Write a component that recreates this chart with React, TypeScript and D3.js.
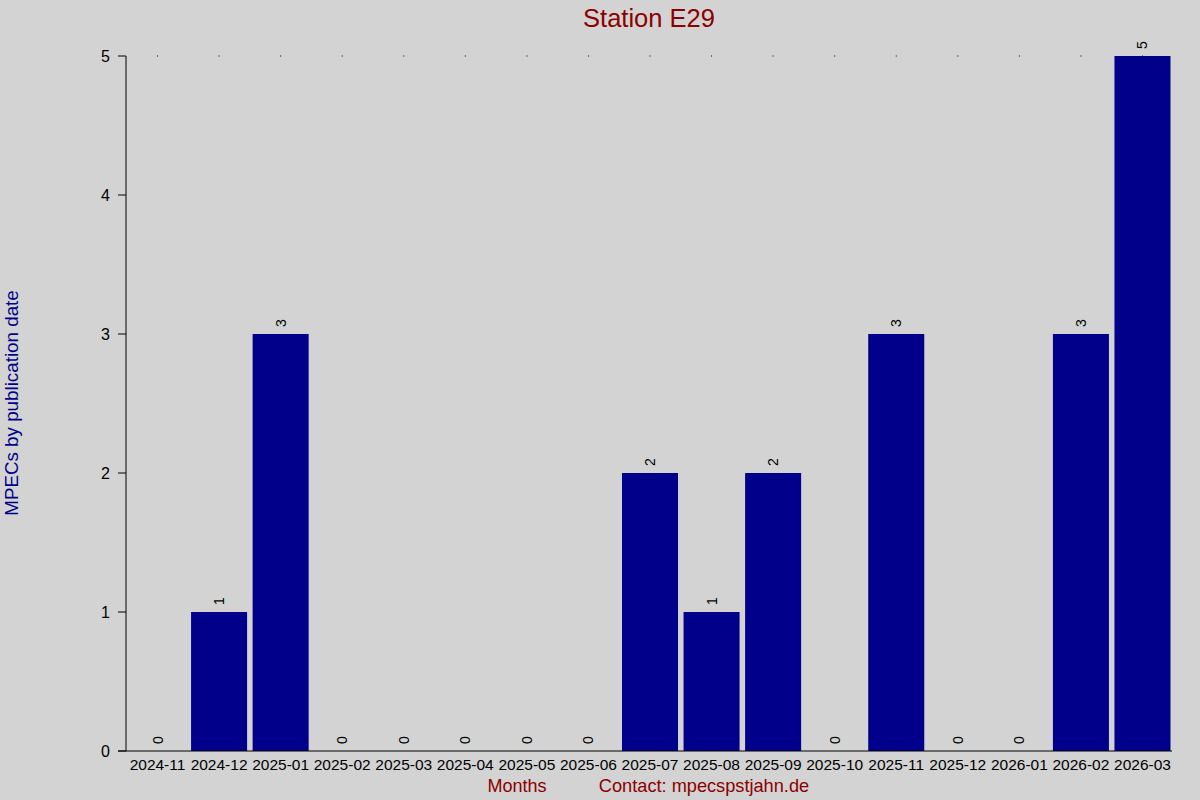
import React from 'react';
import * as d3 from 'd3';

const months = [
  '2024-11', '2024-12', '2025-01', '2025-02', '2025-03', '2025-04', '2025-05', '2025-06', '2025-07',
  '2025-08', '2025-09', '2025-10', '2025-11', '2025-12', '2026-01', '2026-02', '2026-03',
];
const counts = [0, 1, 3, 0, 0, 0, 0, 0, 2, 1, 2, 0, 3, 0, 0, 3, 5];
const yTicks = [0, 1, 2, 3, 4, 5];

const W = 1200;
const H = 800;
const plot = { left: 126, right: 1172, top: 56, bottom: 751 };
const font = '"Liberation Sans", Arial, sans-serif';

export default function App() {
  const x = d3.scaleBand()
    .domain(months)
    .range([plot.left, plot.right + 2])
    .paddingInner(0.09)
    .paddingOuter(0.057);

  const y = d3.scaleLinear()
    .domain([0, 5])
    .range([plot.bottom, plot.top]);

  return (
    <svg width={W} height={H} style={{ position: 'absolute', left: 0, top: 0, background: '#d3d3d3' }} fontFamily={font}>
      <rect x={0} y={0} width={W} height={H} fill="#d3d3d3" />

      <text x={649} y={27} textAnchor="middle" fontSize={25.5} fill="#8b0000">Station E29</text>

      {/* dots along the top */}
      {months.map(m => (
        <rect key={'d' + m} x={x(m)! + x.bandwidth() / 2 - 0.5} y={plot.top - 0.5} width={1} height={1} fill="#000" />
      ))}

      {/* bars */}
      {months.map((m, i) => (
        counts[i] > 0 ? (
          <rect key={'b' + m} x={x(m)!} y={y(counts[i])} width={x.bandwidth()} height={y(0) - y(counts[i])} fill="#00008b" />
        ) : null
      ))}

      {/* value labels */}
      {months.map((m, i) => {
        const cx = x(m)! + x.bandwidth() / 2 + 5;
        const cy = y(counts[i]) - 7;
        return (
          <text key={'v' + m} x={cx} y={cy} transform={`rotate(-90,${cx},${cy})`} fontSize={14} fill="#000">
            {counts[i]}
          </text>
        );
      })}

      {/* y axis */}
      <line x1={plot.left} x2={plot.left} y1={plot.top} y2={plot.bottom} stroke="#000" strokeWidth={1} />
      {yTicks.map(t => (
        <g key={'y' + t}>
          <line x1={plot.left - 8} x2={plot.left} y1={y(t)} y2={y(t)} stroke="#000" strokeWidth={1} />
          <text x={plot.left - 16} y={y(t) + 6} textAnchor="end" fontSize={16} fill="#000">{t}</text>
        </g>
      ))}

      {/* x axis */}
      <line x1={plot.left - 8} x2={plot.right} y1={plot.bottom} y2={plot.bottom} stroke="#000" strokeWidth={1} />
      {months.map(m => (
        <text key={'x' + m} x={x(m)! + x.bandwidth() / 2} y={770} textAnchor="middle" fontSize={15.5} fill="#000">{m}</text>
      ))}

      <text x={18} y={403} transform="rotate(-90,18,403)" textAnchor="middle" fontSize={18.8} fill="#00008b">
        MPECs by publication date
      </text>
      <text x={517} y={792} textAnchor="middle" fontSize={18} fill="#8b0000">Months</text>
      <text x={704} y={792} textAnchor="middle" fontSize={18.2} fill="#8b0000">Contact: mpecspstjahn.de</text>
    </svg>
  );
}
